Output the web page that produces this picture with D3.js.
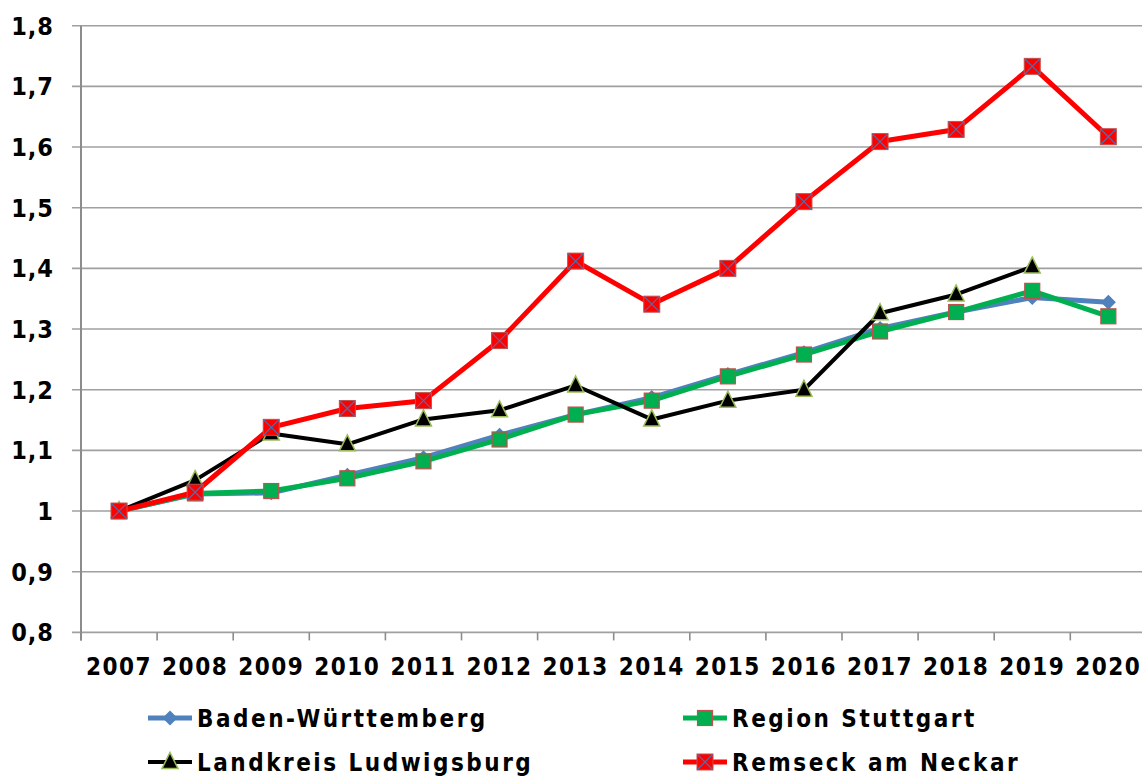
<!DOCTYPE html>
<html>
<head>
<meta charset="utf-8">
<script src="https://cdn.jsdelivr.net/npm/d3@7"></script>
<style>
  body { margin: 0; background: #fff; }
  text { font-family: "DejaVu Sans Condensed", "DejaVu Sans", sans-serif; font-weight: bold; fill: #000; }
</style>
</head>
<body>
<svg id="chart" width="1142" height="780"></svg>
<script>
var years = ['2007','2008','2009','2010','2011','2012','2013','2014','2015','2016','2017','2018','2019','2020'];
var yTicks = [0.8, 0.9, 1.0, 1.1, 1.2, 1.3, 1.4, 1.5, 1.6, 1.7, 1.8];

var badenWuerttemberg = [1.0, 1.028, 1.030, 1.059, 1.088, 1.125, 1.159, 1.187, 1.225, 1.261, 1.301, 1.328, 1.352, 1.344];
var regionStuttgart   = [1.0, 1.029, 1.033, 1.054, 1.082, 1.118, 1.159, 1.182, 1.222, 1.258, 1.296, 1.328, 1.363, 1.321];
var landkreisLudwigsburg = [1.0, 1.051, 1.128, 1.110, 1.151, 1.166, 1.207, 1.151, 1.182, 1.200, 1.326, 1.357, 1.403, null];
var remseck = [1.0, 1.031, 1.138, 1.169, 1.182, 1.281, 1.412, 1.341, 1.400, 1.510, 1.609, 1.629, 1.733, 1.617];

var seriesNames = ['Baden-Württemberg', 'Region Stuttgart', 'Landkreis Ludwigsburg', 'Remseck am Neckar'];

var series = [
	{ name: seriesNames[0], values: badenWuerttemberg, color: '#4F81BD', width: 5, marker: 'diamond' },
	{ name: seriesNames[1], values: regionStuttgart, color: '#00B050', width: 5, marker: 'square' },
	{ name: seriesNames[2], values: landkreisLudwigsburg, color: '#000000', width: 4, marker: 'triangle' },
	{ name: seriesNames[3], values: remseck, color: '#FF0000', width: 5, marker: 'cross' }
];

var plotLeft = 81, plotTop = 25.7, plotBottom = 632.4, bandW = 76.1;

var svg = d3.select('#chart');

var x = d3.scaleBand()
	.domain(years)
	.range([plotLeft, plotLeft + bandW * years.length]);

var y = d3.scaleLinear()
	.domain([0.8, 1.8])
	.range([plotBottom, plotTop]);

// gridlines
svg.append('g')
	.selectAll('line')
	.data(yTicks)
	.enter().append('line')
		.attr('x1', plotLeft - 9)
		.attr('x2', 1142)
		.attr('y1', function(d) { return y(d); })
		.attr('y2', function(d) { return y(d); })
		.style('stroke', '#A0A0A0')
		.style('stroke-width', 1.6);

// axes lines
svg.append('line')
	.attr('x1', plotLeft).attr('x2', plotLeft)
	.attr('y1', plotTop).attr('y2', plotBottom + 8)
	.style('stroke', '#8C8C8C').style('stroke-width', 2);

svg.append('g')
	.selectAll('line')
	.data(years.concat(['end']))
	.enter().append('line')
		.attr('x1', function(d, i) { return plotLeft + i * bandW; })
		.attr('x2', function(d, i) { return plotLeft + i * bandW; })
		.attr('y1', plotBottom)
		.attr('y2', plotBottom + 8)
		.style('stroke', '#8C8C8C')
		.style('stroke-width', 1.6);

// y labels
svg.append('g')
	.selectAll('text')
	.data(yTicks)
	.enter().append('text')
		.attr('x', 54)
		.attr('y', function(d) { return y(d) + 9; })
		.attr('text-anchor', 'end')
		.style('font-size', '25px')
		.style('letter-spacing', '1px')
		.text(function(d) { return d === 1 ? '1' : d3.format('.1f')(d).replace('.', ','); });

// x labels
svg.append('g')
	.selectAll('text')
	.data(years)
	.enter().append('text')
		.attr('x', function(d) { return x(d) + x.bandwidth() / 2; })
		.attr('y', 675)
		.attr('text-anchor', 'middle')
		.style('font-size', '24px')
		.style('letter-spacing', '1.5px')
		.text(function(d) { return d; });

function drawMarker(g, type, color, cx, cy) {
	if (type === 'diamond') {
		g.append('path')
			.attr('d', 'M' + cx + ',' + (cy - 7.5) + 'L' + (cx + 7.5) + ',' + cy + 'L' + cx + ',' + (cy + 7.5) + 'L' + (cx - 7.5) + ',' + cy + 'Z')
			.style('fill', color);
	} else if (type === 'square') {
		g.append('rect')
			.attr('x', cx - 7.5).attr('y', cy - 7.5)
			.attr('width', 15).attr('height', 15)
			.style('fill', color)
			.style('stroke', '#C0504D').style('stroke-width', 1.2);
	} else if (type === 'triangle') {
		g.append('path')
			.attr('d', 'M' + cx + ',' + (cy - 9.5) + 'L' + (cx + 8) + ',' + (cy + 6.5) + 'L' + (cx - 8) + ',' + (cy + 6.5) + 'Z')
			.style('fill', '#000')
			.style('stroke', '#9BBB59').style('stroke-width', 1.5);
	} else if (type === 'cross') {
		g.append('rect')
			.attr('x', cx - 8).attr('y', cy - 8)
			.attr('width', 16).attr('height', 16)
			.style('fill', color)
			.style('stroke', '#C0504D').style('stroke-width', 1);
		g.append('path')
			.attr('d', 'M' + (cx - 7.5) + ',' + (cy - 7.5) + 'L' + (cx + 7.5) + ',' + (cy + 7.5) +
				'M' + (cx + 7.5) + ',' + (cy - 7.5) + 'L' + (cx - 7.5) + ',' + (cy + 7.5))
			.style('stroke', '#4F6EAF').style('stroke-width', 1.2);
	}
}

var line = d3.line()
	.defined(function(d) { return d != null; })
	.x(function(d, i) { return x(years[i]) + x.bandwidth() / 2; })
	.y(function(d) { return y(d); });

series.forEach(function(s) {
	var g = svg.append('g');
	g.append('path')
		.datum(s.values)
		.attr('d', line)
		.style('fill', 'none')
		.style('stroke', s.color)
		.style('stroke-width', s.width)
		.style('stroke-linejoin', 'round');
	s.values.forEach(function(v, i) {
		if (v == null) return;
		drawMarker(g, s.marker, s.color, x(years[i]) + x.bandwidth() / 2, y(v));
	});
});

// legend
var legendPos = [
	{ x: 148, y: 718 },
	{ x: 683, y: 718 },
	{ x: 148, y: 762 },
	{ x: 683, y: 762 }
];

series.forEach(function(s, i) {
	var p = legendPos[i];
	var g = svg.append('g');
	g.append('line')
		.attr('x1', p.x).attr('x2', p.x + 44)
		.attr('y1', p.y).attr('y2', p.y)
		.style('stroke', s.color)
		.style('stroke-width', s.width);
	drawMarker(g, s.marker, s.color, p.x + 22, p.y);
	g.append('text')
		.attr('x', p.x + 49)
		.attr('y', p.y + 9)
		.style('font-size', '24px')
		.style('letter-spacing', '2.5px')
		.text(s.name);
});
</script>
</body>
</html>
